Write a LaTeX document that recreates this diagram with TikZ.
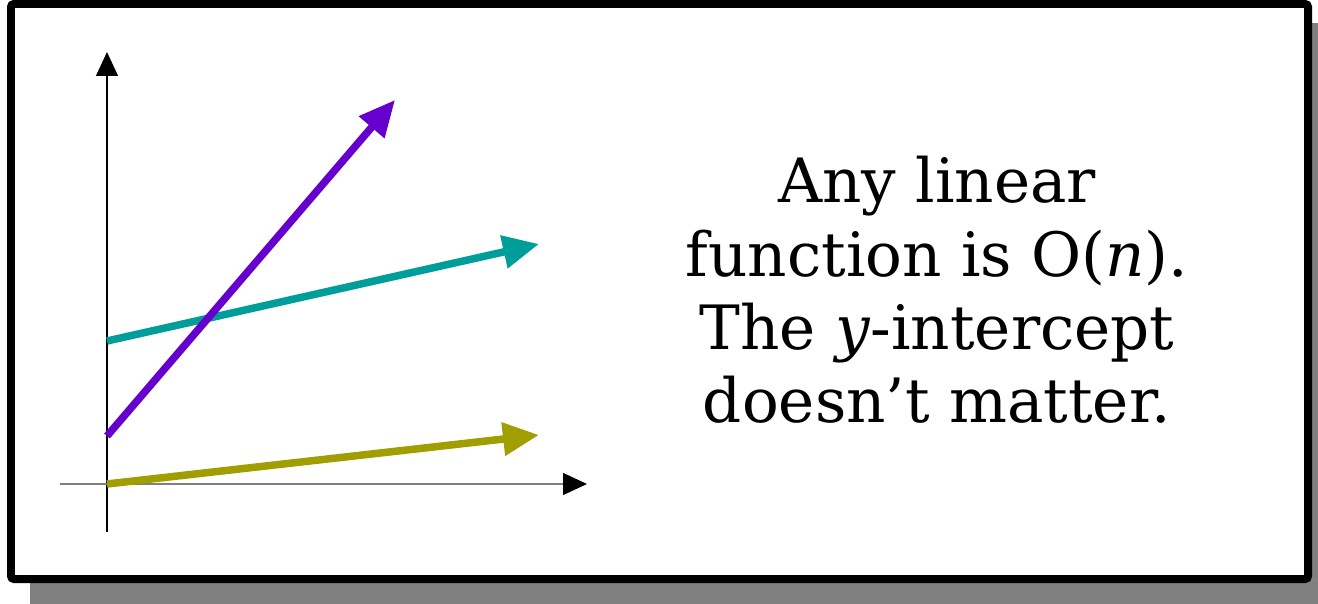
\documentclass[tikz,border=0pt]{standalone}
\usepackage{fontspec}
\setmainfont{DejaVu Serif}
\usetikzlibrary{arrows.meta, positioning}
\definecolor{trendpurple}{RGB}{102,0,204}
\definecolor{trendteal}{RGB}{0,158,154}
\definecolor{trendolive}{RGB}{160,158,0}
\tikzset{
    panel/.style={draw=black, line width=0.16cm, fill=white, rounded corners=0.06cm},
    panelshadow/.style={fill=black!50},
    axis/.style={line width=0.025cm, -{Triangle[length=0.48cm, width=0.44cm, color=black]}},
    trend/.style={line width=0.15cm, -{Triangle[length=0.72cm, width=0.64cm]}},
    textbox/.style={align=center, inner sep=0pt, font=\fontsize{34.8}{41.7}\selectfont}
}

\begin{document}
\begin{tikzpicture}[x=0.02cm, y=-0.02cm]
        \useasboundingbox (0,0) rectangle (1318,604);
        \begin{scope}
            \clip (0,0) rectangle (1318,604);
            \fill [panelshadow] (30,23) rectangle (1340,620);
        \end{scope}
        \draw [panel] (11,4) rectangle (1308,579);
        % axes
        \coordinate (origin) at (107,484);
        \coordinate (ybottom) at (107,532);
        \coordinate (ytop) at (107,52);
        \coordinate (xleft) at (60,484);
        \coordinate (xright) at (587,484);
        \draw [axis, black] (ybottom) -- (ytop);
        \draw [axis, black!50] (xleft) -- (xright);
        % lines
        \coordinate (steepstart) at (107,436);
        \coordinate (steeptip) at (395,100);
        \coordinate (midstart) at (107,341);
        \coordinate (midtip) at (539,244);
        \coordinate (flattip) at (539,435);
        \draw [trend, trendteal] (midstart) -- (midtip);
        \draw [trend, trendpurple] (steepstart) -- (steeptip);
        \draw [trend, trendolive] (origin) -- (flattip);
        \node [textbox] (message) at (937,290) {Any linear \\ function is O(\textit{n}). \\ The \textit{y}-intercept \\ doesn’t matter.};
    \end{tikzpicture}
\end{document}
